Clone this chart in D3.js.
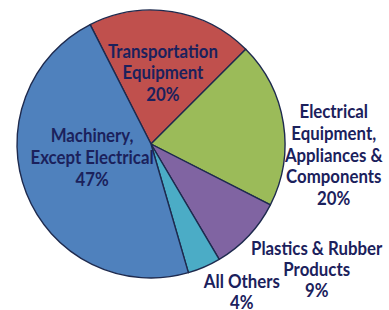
<!DOCTYPE html>
<html>
<head>
<meta charset="utf-8">
<script src="https://cdn.jsdelivr.net/npm/d3@7/dist/d3.min.js"></script>
<style>
  html, body { margin: 0; padding: 0; background: #ffffff; }
  svg { display: block; }
</style>
</head>
<body>
<svg id="chart" width="389" height="310"></svg>
<script>
// ---- Data ----
const categories = [
  "Transportation Equipment",
  "Electrical Equipment, Appliances & Components",
  "Plastics & Rubber Products",
  "All Others",
  "Machinery, Except Electrical"
];
const values = [20, 20, 9, 4, 47];
const labelLines = [
  ["Transportation", "Equipment", "20%"],
  ["Electrical", "Equipment,", "Appliances &", "Components", "20%"],
  ["Plastics & Rubber", "Products", "9%"],
  ["All Others", "4%"],
  ["Machinery,", "Except Electrical", "47%"]
];
const colors = ["#C0504D", "#9BBB59", "#8064A2", "#4BACC6", "#4F81BD"];

// ---- Layout ----
const width = 389, height = 310;
const cx = 151, cy = 144, radius = 134;
const startDeg = -27;
const fontFamily = "Lato, 'Liberation Sans', sans-serif";
const fontSize = 18;
// label placement: radius fraction and angle (deg, clockwise from top) for block centre
const labelPlace = [
  { k: 0.49, a: 10.5, lh: 21.5 },
  { k: 1.37, a: 95.5, lh: 21.8 },
  { k: 1.58, a: 128.5, lh: 21 },
  { k: 1.335, a: 149.5, lh: 21 },
  { k: 0.465, a: 251, lh: 22 }
];

const svg = d3.select("#chart");
const g = svg.append("g").attr("transform", `translate(${cx},${cy})`);

const pie = d3.pie().sort(null).value(d => d)
  .startAngle(startDeg * Math.PI / 180)
  .endAngle((startDeg + 360) * Math.PI / 180);
const arcs = pie(values);
const arc = d3.arc().innerRadius(0).outerRadius(radius);

g.selectAll("path.slice")
  .data(arcs)
  .enter().append("path")
  .attr("class", "slice")
  .attr("d", arc)
  .attr("fill", (d, i) => colors[i])
  .attr("stroke", "#1E2A4E")
  .attr("stroke-width", 1.4)
  .attr("stroke-linejoin", "round");

// measure to derive a horizontal condense factor (reference uses a narrow face)
const probe = svg.append("text")
  .attr("font-family", fontFamily).attr("font-weight", "bold")
  .attr("font-size", fontSize).text("Transportation");
const sx = 110 / probe.node().getComputedTextLength();
probe.remove();

const lblG = g.selectAll("g.lbl")
  .data(arcs)
  .enter().append("g")
  .attr("class", "lbl")
  .attr("transform", (d, i) => {
    const p = labelPlace[i];
    const ang = p.a * Math.PI / 180;
    const r = p.k * radius;
    return `translate(${r * Math.sin(ang)},${-r * Math.cos(ang)}) scale(${sx},1)`;
  });

lblG.append("text")
  .attr("text-anchor", "middle")
  .attr("font-family", fontFamily)
  .attr("font-weight", "bold")
  .attr("font-size", fontSize)
  .attr("fill", "#1B215C")
  .each(function(d, i) {
    const p = labelPlace[i];
    const lines = labelLines[i];
    const n = lines.length;
    const el = d3.select(this);
    lines.forEach((t, j) => {
      el.append("tspan")
        .attr("x", 0)
        .attr("y", (j - (n - 1) / 2) * p.lh)
        .text(t);
    });
  });
</script>
</body>
</html>
